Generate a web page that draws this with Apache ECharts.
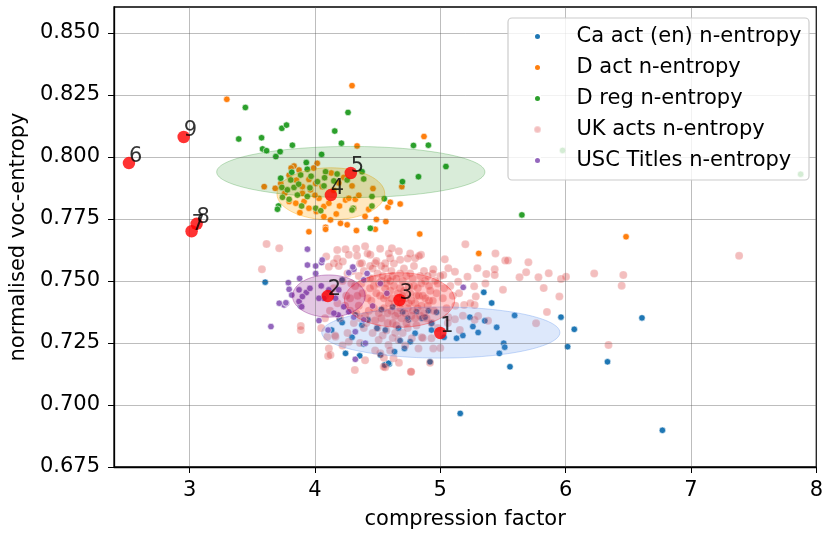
<!DOCTYPE html>
<html>
<head>
<meta charset="utf-8">
<script src="https://cdn.jsdelivr.net/npm/echarts@6/dist/echarts.min.js"></script>
<style>
  html, body { margin: 0; padding: 0; background: #fff; }
  #chart { width: 826px; height: 535px; }
</style>
</head>
<body>
<div id="chart"></div>
<script>
var seriesNames = ['Ca act (en) n-entropy', 'D act n-entropy', 'D reg n-entropy', 'UK acts n-entropy', 'USC Titles n-entropy']
var xTicks = [3, 4, 5, 6, 7, 8]
var yTicks = [0.675, 0.700, 0.725, 0.750, 0.775, 0.800, 0.825, 0.850]

var caAct = [[3.603,0.7495],[3.887,0.7399],[4.244,0.7208],[4.133,0.7302],[4.296,0.7273],[4.389,0.7246],[4.495,0.7309],[4.522,0.7201],[4.561,0.7302],[4.556,0.7161],[4.423,0.7343],[4.196,0.7345],[4.375,0.7322],[4.322,0.7363],[4.217,0.7504],[4.357,0.7198],[4.593,0.7165],[4.217,0.7332],[4.587,0.7168],[4.635,0.7215],[4.714,0.7228],[4.76,0.7255],[4.68,0.7259],[4.746,0.7343],[4.667,0.7309],[4.852,0.735],[4.905,0.738],[4.799,0.7289],[4.93,0.7302],[4.918,0.7174],[4.93,0.7329],[4.97,0.7374],[4.878,0.7354],[4.81,0.7376],[4.74,0.735],[5.03,0.7273],[5.13,0.7269],[5.18,0.728],[5.236,0.7354],[5.26,0.7316],[5.302,0.7292],[5.355,0.7339],[5.347,0.7454],[5.41,0.7411],[5.45,0.7313],[5.506,0.7249],[5.514,0.7233],[5.471,0.7208],[5.556,0.7154],[5.593,0.7361],[5.963,0.7354],[6.069,0.7305],[6.016,0.7235],[6.334,0.7174],[6.609,0.7351],[5.159,0.6966],[6.772,0.6898],[4.62,0.7395],[4.70,0.7375],[4.53,0.7385]]

var dAct = [[3.297,0.8232],[4.296,0.8287],[4.336,0.8044],[4.87,0.8082],[4.018,0.7974],[3.833,0.7963],[3.873,0.7947],[3.595,0.788],[3.683,0.7873],[3.794,0.7926],[3.852,0.7906],[3.952,0.7909],[4.006,0.7893],[4.058,0.788],[3.965,0.7867],[3.9,0.7853],[4.032,0.7833],[3.847,0.7813],[3.913,0.782],[3.952,0.7793],[4.011,0.778],[4.071,0.78],[4.111,0.7813],[4.071,0.7759],[4.124,0.7746],[4.204,0.7732],[4.257,0.7726],[4.085,0.7716],[4.196,0.7802],[4.244,0.7826],[4.296,0.7883],[4.23,0.7917],[4.27,0.7833],[4.322,0.7829],[4.31,0.7793],[3.759,0.7853],[3.794,0.782],[3.727,0.7893],[3.9,0.788],[3.952,0.7698],[4.085,0.7708],[4.331,0.7703],[4.49,0.7748],[4.566,0.7739],[4.481,0.7708],[4.582,0.7797],[4.68,0.781],[4.693,0.788],[4.429,0.7789],[4.463,0.7872],[4.601,0.7817],[4.836,0.7689],[5.307,0.7611],[6.482,0.7678],[4.15,0.7865],[4.19,0.7895],[3.99,0.7955],[4.13,0.7935],[4.35,0.7845],[4.0,0.7845],[3.88,0.7775],[4.17,0.777],[4.40,0.776],[3.81,0.7955]]

var dReg = [[3.445,0.8199],[3.392,0.8072],[3.574,0.8077],[3.736,0.8115],[3.773,0.8128],[3.582,0.8032],[3.614,0.8025],[3.722,0.8021],[3.82,0.8047],[3.688,0.8001],[4.158,0.8104],[4.264,0.8179],[4.211,0.8055],[4.053,0.801],[3.931,0.7977],[3.939,0.795],[3.815,0.7938],[3.886,0.7927],[3.727,0.7914],[3.807,0.7907],[3.736,0.7877],[3.78,0.7867],[3.833,0.7877],[3.741,0.7837],[3.794,0.7829],[3.86,0.7846],[3.894,0.7802],[3.939,0.784],[3.969,0.7922],[4.085,0.794],[4.077,0.7916],[4.072,0.7883],[4.151,0.7903],[4.177,0.7931],[4.257,0.7907],[4.389,0.7911],[4.304,0.7793],[3.709,0.7802],[3.701,0.7789],[4.006,0.7793],[4.046,0.7783],[4.442,0.7712],[4.553,0.7831],[4.698,0.79],[4.786,0.8046],[4.905,0.8047],[4.826,0.792],[5.045,0.7961],[4.376,0.794],[4.455,0.784],[4.296,0.7786],[4.455,0.7802],[5.651,0.7766],[5.976,0.8026],[7.875,0.793],[3.96,0.7875],[4.02,0.79],[3.87,0.789]]

var ukActs = [[3.614,0.7649],[3.715,0.7632],[3.577,0.7547],[3.887,0.7318],[3.887,0.7302],[4.111,0.7228],[4.105,0.7197],[4.318,0.7141],[4.09,0.7598],[4.178,0.7625],[4.244,0.7628],[4.27,0.7605],[4.178,0.759],[4.151,0.7571],[4.111,0.7557],[4.222,0.7578],[4.336,0.7601],[4.375,0.7571],[4.442,0.7605],[4.481,0.7571],[4.08,0.735],[4.098,0.7275],[4.164,0.7275],[4.27,0.7255],[4.508,0.7262],[4.124,0.7201],[4.561,0.7152],[4.765,0.7134],[5.2,0.7648],[5.44,0.7611],[5.518,0.7582],[5.296,0.7551],[5.367,0.7528],[5.434,0.7547],[5.217,0.7517],[5.27,0.7479],[5.5,0.7464],[5.434,0.7524],[5.36,0.749],[5.283,0.7437],[5.19,0.7403],[5.274,0.7403],[5.302,0.7359],[5.381,0.7339],[5.274,0.7343],[5.036,0.7587],[5.064,0.7551],[5.117,0.7537],[4.846,0.7605],[4.799,0.7591],[4.76,0.7611],[4.68,0.7585],[4.614,0.7632],[4.601,0.7591],[4.561,0.7571],[4.944,0.7547],[5.024,0.7524],[5.143,0.7497],[5.117,0.7345],[5.064,0.7354],[5.156,0.7302],[4.93,0.7269],[4.852,0.7273],[4.773,0.7269],[4.667,0.7262],[4.587,0.7242],[4.944,0.7228],[4.826,0.7228],[4.548,0.7154],[4.768,0.7134],[4.918,0.717],[4.627,0.7188],[4.522,0.7208],[5.703,0.7575],[5.685,0.7535],[5.632,0.7515],[5.783,0.7515],[5.865,0.7531],[5.963,0.7508],[6.003,0.7517],[5.825,0.7471],[5.95,0.7437],[5.851,0.7375],[5.764,0.7329],[6.228,0.753],[6.46,0.7524],[6.447,0.7481],[6.342,0.7242],[5.54,0.7582],[7.384,0.7601],
  [4.32,0.748],[4.38,0.745],[4.41,0.751],[4.45,0.742],[4.47,0.748],[4.50,0.753],[4.52,0.744],[4.55,0.739],[4.57,0.749],[4.60,0.746],[4.62,0.752],[4.64,0.741],[4.66,0.737],[4.68,0.747],[4.70,0.750],[4.72,0.743],[4.74,0.739],[4.76,0.745],[4.78,0.751],[4.80,0.741],[4.82,0.747],[4.84,0.736],[4.86,0.744],[4.88,0.750],[4.90,0.740],[4.92,0.746],[4.95,0.738],[4.98,0.749],[5.02,0.743],[5.05,0.739],[4.35,0.740],[4.40,0.736],[4.43,0.738],[4.48,0.734],[4.53,0.735],[4.58,0.733],[4.61,0.738],[4.65,0.732],[4.69,0.735],[4.73,0.733],[4.77,0.736],[4.81,0.732],[4.85,0.740],[4.89,0.735],[4.93,0.733],[4.25,0.744],[4.28,0.738],[4.22,0.750],[4.30,0.754],[4.36,0.757],[4.44,0.756],[4.49,0.758],[4.56,0.755],[4.63,0.757],[4.71,0.755],[4.79,0.756],[4.87,0.754],[4.94,0.753],[5.00,0.752],[5.08,0.748],[5.10,0.744],[5.12,0.740],[4.18,0.741],[4.20,0.735],[4.15,0.747],[4.46,0.729],[4.54,0.728],[4.62,0.727],[4.70,0.729],[4.39,0.731],[4.31,0.733],[4.26,0.729],[4.59,0.761],[4.67,0.762],[4.52,0.763],[4.42,0.761],[4.74,0.759],[4.83,0.760],[4.57,0.744],[4.67,0.743],[4.75,0.748],[4.44,0.747],[4.51,0.749],[4.61,0.743],[4.83,0.744],[4.91,0.742],[4.97,0.745],[4.35,0.752],[4.29,0.749],[4.12,0.738],[4.08,0.744],[4.05,0.731],[4.16,0.728],[4.22,0.724],[4.36,0.725],[4.48,0.722],[4.60,0.722],[4.72,0.724],[4.86,0.727],[4.98,0.731],[5.06,0.733],[5.18,0.736],[5.24,0.741],[5.15,0.745],[4.40,0.718],[4.55,0.719],[4.67,0.717],[5.00,0.723],[4.33,0.763],[4.40,0.764],
  [4.34,0.744],[4.37,0.749],[4.42,0.743],[4.46,0.751],[4.49,0.745],[4.53,0.750],[4.56,0.747],[4.59,0.741],[4.63,0.748],[4.66,0.745],[4.69,0.741],[4.71,0.746],[4.73,0.752],[4.77,0.742],[4.79,0.748],[4.81,0.744],[4.85,0.749],[4.88,0.743],[4.91,0.748],[4.94,0.742],[4.47,0.739],[4.51,0.737],[4.55,0.743],[4.58,0.751],[4.64,0.736],[4.68,0.739],[4.72,0.737],[4.75,0.741],[4.78,0.738],[4.82,0.739],[4.87,0.737],[4.90,0.752],[4.96,0.750],[5.03,0.747],[4.39,0.754],[4.46,0.755],[4.53,0.756],[4.61,0.754],[4.68,0.753],[4.76,0.753],[4.84,0.752],[4.28,0.743],[4.24,0.740],[4.33,0.737],[4.41,0.733],[4.50,0.731],[4.57,0.730],[4.64,0.729],[4.74,0.731],[4.80,0.735],[4.26,0.753],[4.19,0.756],[4.60,0.750],[4.65,0.751],[4.54,0.752],[4.44,0.751],[4.70,0.744],[4.58,0.737],[4.62,0.733],[4.36,0.735]]

var uscTitles = [[3.94,0.7628],[4.006,0.756],[4.053,0.7574],[3.94,0.7564],[4.006,0.753],[3.878,0.751],[3.788,0.7493],[3.794,0.7466],[3.873,0.7464],[3.931,0.7453],[3.815,0.7443],[3.754,0.7403],[3.772,0.741],[3.873,0.7417],[3.9,0.7437],[3.894,0.7396],[4.071,0.743],[4.032,0.743],[4.164,0.743],[4.19,0.7464],[4.185,0.7363],[4.151,0.737],[4.032,0.734],[3.649,0.7316],[4.27,0.7533],[4.31,0.7547],[4.27,0.7376],[4.31,0.7354],[4.23,0.7396],[4.322,0.7295],[4.389,0.7504],[4.402,0.7249],[4.322,0.7184],[4.389,0.7343],[4.46,0.7399],[4.105,0.7302],[4.111,0.7464],[4.058,0.7584],[4.302,0.7556],[4.416,0.753],[4.574,0.745],[5.183,0.7474],[4.522,0.749],[3.715,0.741],[3.768,0.7412],[3.96,0.747],[4.05,0.748]]

// centroids: x, y, label
var centroids = [[5.00,0.729,'1'],[4.103,0.7439,'2'],[4.675,0.7423,'3'],[4.127,0.7846,'4'],[4.286,0.7935,'5'],[2.516,0.7975,'6'],[3.016,0.770,'7'],[3.056,0.773,'8'],[2.953,0.808,'9']]

// ellipses: cx, cy, rx, ry
var ellipses = [[5.004,0.7292,0.95,0.0103],[4.127,0.7851,0.43,0.0105],[4.286,0.7939,1.07,0.0103],[4.675,0.7423,0.44,0.011],[4.111,0.7439,0.29,0.0085]]
var ellipseColors = ['100,149,237', '255,165,0', '0,128,0', '255,0,0', '128,0,128']
var ellipseAlpha = [0.22, 0.25, 0.15, 0.2, 0.22]

var colors = ['#1f77b4', '#ff7f0e', '#2ca02c', '#d62728', '#9467bd']
var font = 'DejaVu Sans'

var chart = echarts.init(document.getElementById('chart'))

function dots (name, data, i) {
  return {
    name: name,
    type: 'scatter',
    data: data,
    symbolSize: i === 3 ? 8 : 6.5,
    itemStyle: {
      color: colors[i],
      borderColor: '#fff',
      borderWidth: 0.6,
      opacity: i === 3 ? 0.3 : 1
    },
    emphasis: { disabled: true },
    z: 2
  }
}

var option = {
  animation: false,
  grid: { left: 114, right: 6, top: 7, bottom: 68, show: true, borderColor: '#000', borderWidth: 1.3 },
  xAxis: {
    type: 'value',
    min: 2.397,
    max: 8,
    z: 5,
    name: 'compression factor',
    nameLocation: 'middle',
    nameGap: 42,
    nameTextStyle: { fontSize: 21, fontFamily: font, color: '#000' },
    axisLine: { lineStyle: { color: '#000', width: 1.3 } },
    axisTick: { show: true, length: 6, customValues: xTicks, lineStyle: { color: '#000' } },
    axisLabel: { fontSize: 21, fontFamily: font, color: '#000', margin: 13, customValues: xTicks },
    splitLine: { show: true, lineStyle: { color: 'rgba(90,90,90,0.4)', width: 1 } }
  },
  yAxis: {
    type: 'value',
    min: 0.675,
    max: 0.8604,
    interval: 0.025,
    z: 5,
    name: 'normalised voc-entropy',
    nameLocation: 'middle',
    nameRotate: 90,
    nameGap: 79,
    nameTextStyle: { fontSize: 21, fontFamily: font, color: '#000' },
    axisLine: { show: true, lineStyle: { color: '#000', width: 1.3 } },
    axisTick: { show: true, length: 6, customValues: yTicks, lineStyle: { color: '#000' } },
    axisLabel: {
      fontSize: 21, fontFamily: font, color: '#000', margin: 14, customValues: yTicks,
      formatter: function (v) { return v.toFixed(3) }
    },
    splitLine: { show: true, lineStyle: { color: 'rgba(90,90,90,0.4)', width: 1 } }
  },
  legend: {
    data: seriesNames,
    orient: 'vertical',
    left: 533,
    top: 26,
    padding: 0,
    itemWidth: 68,
    itemHeight: 7,
    itemGap: 10,
    icon: 'circle',
    z: 12,
    textStyle: { fontSize: 21, fontFamily: font, color: '#000', lineHeight: 21 }
  },
  graphic: [{
    type: 'rect',
    z: 11,
    shape: { x: 508, y: 18, width: 301, height: 162, r: 4 },
    style: { fill: 'rgba(255,255,255,0.8)', stroke: '#cccccc', lineWidth: 1.2 }
  }],
  series: [
    dots(seriesNames[0], caAct, 0),
    dots(seriesNames[1], dAct, 1),
    dots(seriesNames[2], dReg, 2),
    dots(seriesNames[3], ukActs, 3),
    dots(seriesNames[4], uscTitles, 4),
    {
      type: 'custom',
      data: ellipses,
      z: 3,
      silent: true,
      renderItem: function (params, api) {
        var c = api.coord([api.value(0), api.value(1)])
        var s = api.size([api.value(2), api.value(3)])
        var rgb = ellipseColors[params.dataIndex]
        var a = ellipseAlpha[params.dataIndex]
        return {
          type: 'ellipse',
          shape: { cx: c[0], cy: c[1], rx: s[0], ry: s[1] },
          style: { fill: 'rgba(' + rgb + ',' + a + ')', stroke: 'rgba(' + rgb + ',' + Math.min(1, a * 1.6) + ')', lineWidth: 1 }
        }
      }
    },
    {
      name: 'centroids',
      type: 'scatter',
      data: centroids,
      symbolSize: 12.5,
      z: 6,
      itemStyle: { color: '#ff0000' },
      emphasis: { disabled: true },
      label: {
        show: true,
        position: [6.25, 10],
        align: 'left',
        verticalAlign: 'bottom',
        fontSize: 21,
        fontFamily: font,
        color: '#000',
        formatter: function (p) { return p.value[2] }
      }
    }
  ]
}
chart.setOption(option)
</script>
</body>
</html>
